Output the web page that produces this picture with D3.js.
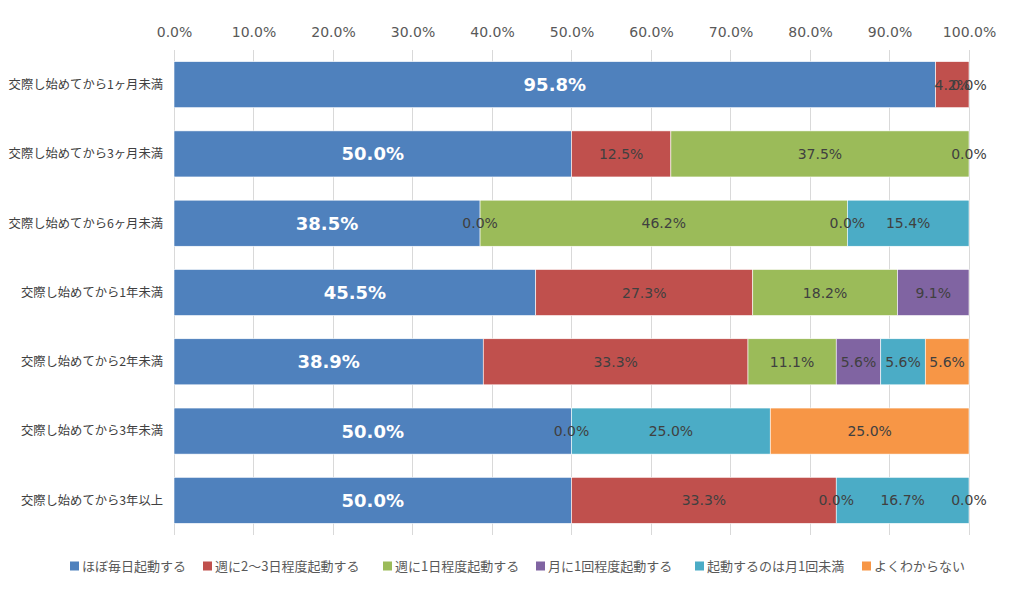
<!doctype html>
<html lang="ja">
<head>
<meta charset="utf-8">
<script src="https://d3js.org/d3.v7.min.js"></script>
<style>
  body { margin: 0; background: #fff; }
  text { font-family: "DejaVu Sans", "Noto Sans CJK JP", sans-serif; }
  .jp { font-family: "Noto Sans CJK JP", sans-serif; }
</style>
</head>
<body>
<div id="chart"></div>
<script>
// categories (rows, top to bottom)
const categories = [
  '交際し始めてから1ヶ月未満',
  '交際し始めてから3ヶ月未満',
  '交際し始めてから6ヶ月未満',
  '交際し始めてから1年未満',
  '交際し始めてから2年未満',
  '交際し始めてから3年未満',
  '交際し始めてから3年以上'
]
const seriesNames = [
  'ほぼ毎日起動する',
  '週に2〜3日程度起動する',
  '週に1日程度起動する',
  '月に1回程度起動する',
  '起動するのは月1回未満',
  'よくわからない'
]
// one array per series, values in % per category (null = no label)
const daily     = [95.8, 50.0, 38.5, 45.5, 38.9, 50.0, 50.0]
const weekly2_3 = [4.2, 12.5, 0.0, 27.3, 33.3, 0.0, 33.3]
const weekly1   = [0.0, 37.5, 46.2, 18.2, 11.1, null, 0.0]
const monthly1  = [null, 0.0, 0.0, 9.1, 5.6, null, null]
const lessMonth = [null, null, 15.4, null, 5.6, 25.0, 16.7]
const unknown   = [null, null, null, null, 5.6, 25.0, 0.0]
const seriesValues = [daily, weekly2_3, weekly1, monthly1, lessMonth, unknown]
const colors = ['#4f81bd', '#c0504d', '#9bbb59', '#8064a2', '#4bacc6', '#f79646']
const xTicks = [0, 10, 20, 30, 40, 50, 60, 70, 80, 90, 100]

const width = 1018, height = 597
const margin = {top: 50, left: 174, right: 49, bottom: 62}

const svg = d3.select('#chart').append('svg')
  .attr('width', width).attr('height', height)

const x = d3.scaleLinear().domain([0, 100]).range([margin.left, width - margin.right])
const y = d3.scaleBand().domain(categories)
  .range([margin.top, height - margin.bottom])
  .paddingInner(0.335).paddingOuter(0.1675)

// gridlines
svg.append('g').selectAll('line')
  .data(xTicks)
  .join('line')
  .attr('x1', d => x(d)).attr('x2', d => x(d))
  .attr('y1', margin.top).attr('y2', height - margin.bottom)
  .attr('stroke', '#d9d9d9').attr('stroke-width', 1)
  .attr('shape-rendering', 'crispEdges')

// top axis
const xAxis = svg.append('g')
  .attr('transform', `translate(0,${margin.top})`)
  .call(d3.axisTop(x).tickValues(xTicks).tickFormat(d => d.toFixed(1) + '%').tickSize(0).tickPadding(13))
xAxis.select('.domain').remove()
xAxis.selectAll('text').attr('fill', '#595959').style('font-size', '14px')

// stacked segments
const segs = []
categories.forEach((c, i) => {
  let acc = 0
  seriesValues.forEach((vals, s) => {
    const v = vals[i]
    if (v === null) return
    const x0 = Math.min(acc, 100), x1 = Math.min(acc + v, 100)
    segs.push({cat: c, s, v, x0, x1})
    acc += v
  })
})

svg.append('g').selectAll('rect')
  .data(segs)
  .join('rect')
  .attr('x', d => x(d.x0))
  .attr('y', d => y(d.cat))
  .attr('width', d => x(d.x1) - x(d.x0))
  .attr('height', y.bandwidth())
  .attr('fill', d => colors[d.s])
  .attr('stroke', '#fff').attr('stroke-width', 0.6)

// category labels
svg.append('g').selectAll('text')
  .data(categories)
  .join('text')
  .attr('class', 'jp')
  .attr('x', margin.left - 11)
  .attr('y', d => y(d) + y.bandwidth() / 2)
  .attr('dy', '0.35em')
  .attr('text-anchor', 'end')
  .attr('fill', '#404040')
  .style('font-size', '12.3px')
  .text(d => d)

// data labels
svg.append('g').selectAll('text')
  .data(segs)
  .join('text')
  .attr('x', d => x((d.x0 + d.x1) / 2))
  .attr('y', d => y(d.cat) + y.bandwidth() / 2)
  .attr('dy', '0.36em')
  .attr('text-anchor', 'middle')
  .attr('fill', d => d.s === 0 ? '#fff' : '#404040')
  .style('font-size', d => d.s === 0 ? '18px' : '14px')
  .style('font-weight', d => d.s === 0 ? 'bold' : 'normal')
  .text(d => d.v.toFixed(1) + '%')

// legend
const legendX = [70, 203, 383, 536, 695, 862]
const legend = svg.append('g').selectAll('g')
  .data(seriesNames)
  .join('g')
  .attr('transform', (d, i) => `translate(${legendX[i]},566)`)
legend.append('rect')
  .attr('x', 0).attr('y', -4.5).attr('width', 9).attr('height', 9)
  .attr('fill', (d, i) => colors[i])
legend.append('text')
  .attr('class', 'jp')
  .attr('x', 12).attr('dy', '0.35em')
  .attr('fill', '#595959')
  .style('font-size', '13px')
  .text(d => d)
</script>
</body>
</html>
